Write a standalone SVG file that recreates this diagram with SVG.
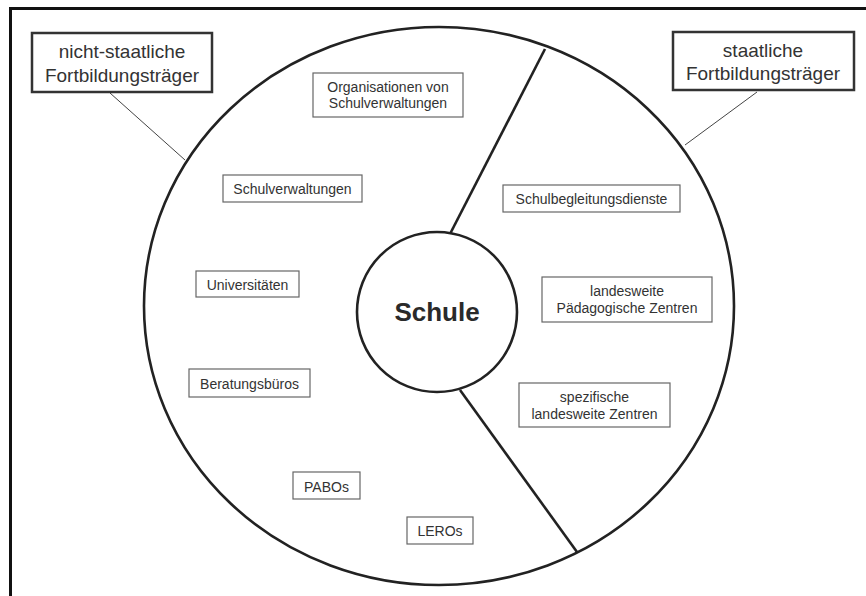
<svg xmlns="http://www.w3.org/2000/svg" width="866" height="596" viewBox="0 0 866 596">
  <style>
    .frame { stroke: #111; stroke-width: 3; fill: none; }
    .ring { stroke: #222; stroke-width: 2.6; fill: none; }
    .hub { stroke: #222; stroke-width: 2.6; fill: #fff; }
    .divider { stroke: #222; stroke-width: 2.6; fill: none; }
    .leader { stroke: #444; stroke-width: 1; fill: none; }
    .head { stroke: #333; stroke-width: 2.5; fill: #fff; }
    .box { stroke: #666; stroke-width: 1.2; fill: #fff; }
    text { font-family: "Liberation Sans", Arial, sans-serif; fill: #333; text-anchor: middle; }
    .big { font-size: 19px; }
    .small { font-size: 14px; }
    .hubtxt { font-size: 26px; font-weight: bold; fill: #2a2a2a; }
  </style>

  <rect width="866" height="596" fill="#fff"/>

  <!-- open frame: top and left edges -->
  <path class="frame" d="M10.5 596 V8.5 H866"/>

  <!-- outer field -->
  <ellipse id="field" class="ring" cx="439" cy="306" rx="295" ry="279"/>

  <g id="connectors">
    <line class="divider" x1="545" y1="49" x2="450" y2="234"/>
    <line class="divider" x1="460" y1="390" x2="577" y2="552"/>
    <line class="leader" x1="110" y1="93" x2="185" y2="160"/>
    <line class="leader" x1="757" y1="92" x2="685" y2="145"/>
  </g>

  <g id="schule">
    <circle class="hub" cx="437" cy="312" r="80"/>
    <text class="hubtxt" x="437" y="321">Schule</text>
  </g>

  <g id="nicht-staatliche">
    <rect class="head" x="32" y="33" width="180" height="59"/>
    <text class="big" x="122" y="58">nicht-staatliche</text>
    <text class="big" x="122" y="82">Fortbildungsträger</text>
  </g>

  <g id="staatliche">
    <rect class="head" x="673" y="32" width="181" height="58"/>
    <text class="big" x="763" y="57">staatliche</text>
    <text class="big" x="763" y="80">Fortbildungsträger</text>
  </g>

  <g id="organisationen">
    <rect class="box" x="313" y="73" width="150" height="44"/>
    <text class="small" x="388" y="92">Organisationen von</text>
    <text class="small" x="388" y="108">Schulverwaltungen</text>
  </g>

  <g id="schulverwaltungen">
    <rect class="box" x="223" y="175" width="139" height="27"/>
    <text class="small" x="292.5" y="194">Schulverwaltungen</text>
  </g>

  <g id="universitaeten">
    <rect class="box" x="196" y="271" width="103" height="26"/>
    <text class="small" x="247.5" y="290">Universitäten</text>
  </g>

  <g id="beratungsbueros">
    <rect class="box" x="189" y="369" width="121" height="28"/>
    <text class="small" x="249.5" y="389">Beratungsbüros</text>
  </g>

  <g id="pabos">
    <rect class="box" x="293" y="472" width="67" height="27"/>
    <text class="small" x="326.5" y="492">PABOs</text>
  </g>

  <g id="leros">
    <rect class="box" x="407" y="517" width="66" height="27"/>
    <text class="small" x="440" y="536">LEROs</text>
  </g>

  <g id="schulbegleitungsdienste">
    <rect class="box" x="503" y="185" width="177" height="27"/>
    <text class="small" x="591.5" y="204">Schulbegleitungsdienste</text>
  </g>

  <g id="paedagogische-zentren">
    <rect class="box" x="542" y="277" width="170" height="45"/>
    <text class="small" x="627" y="296">landesweite</text>
    <text class="small" x="627" y="313">Pädagogische Zentren</text>
  </g>

  <g id="spezifische-zentren">
    <rect class="box" x="519" y="383" width="151" height="44"/>
    <text class="small" x="594.5" y="402">spezifische</text>
    <text class="small" x="594.5" y="419">landesweite Zentren</text>
  </g>
</svg>
